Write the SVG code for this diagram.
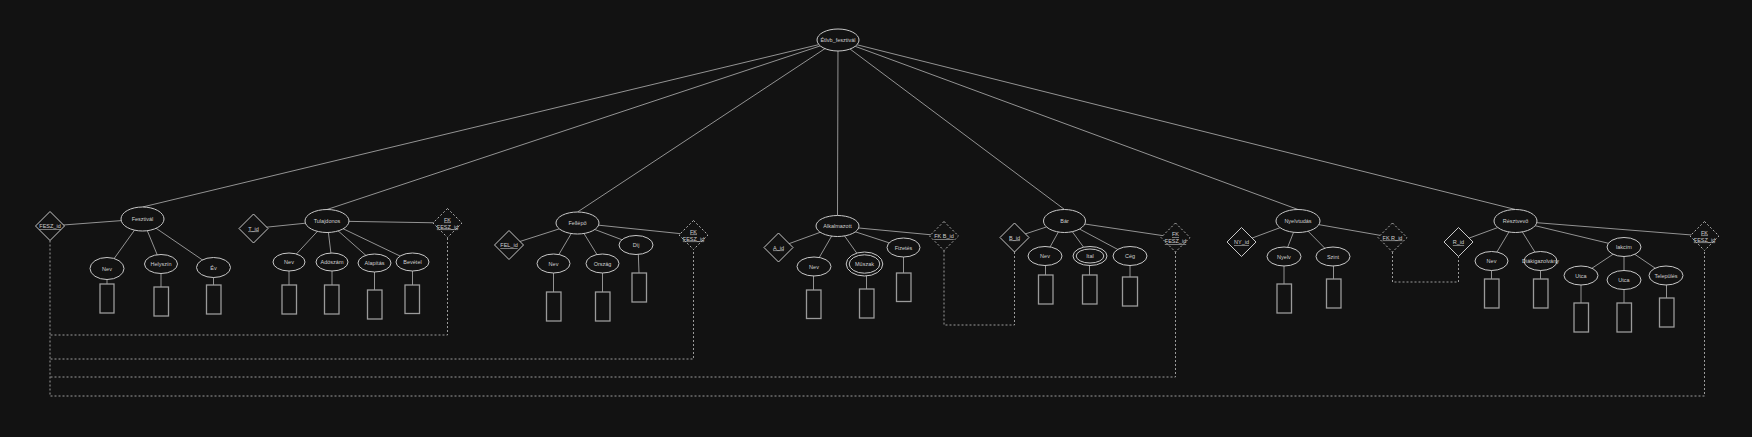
<svg xmlns="http://www.w3.org/2000/svg" width="1752" height="437" viewBox="0 0 1752 437">
<style>
.bg{fill:#121212}
.e{fill:#121212;stroke:#c8c8c8;stroke-width:1}
.d{fill:#121212;stroke:#c8c8c8;stroke-width:1}
.dd{fill:#121212;stroke:#b0b0b0;stroke-width:1;stroke-dasharray:2 2}
.r{fill:none;stroke:#9a9a9a;stroke-width:1.3}
.l{stroke:#b4b4b4;stroke-width:0.8;fill:none}
.dl{stroke:#9a9a9a;stroke-width:1;fill:none;stroke-dasharray:2 2}
text{font-family:"Liberation Sans",Arial,sans-serif;font-size:5.5px;fill:#cfcfcf;text-anchor:middle;dominant-baseline:central}
.u{text-decoration:underline}
</style>
<rect class="bg" x="0" y="0" width="1752" height="437"/>
<g id="connectors">
<!-- root to entities -->
<line class="l" x1="838" y1="40" x2="142.5" y2="207"/>
<line class="l" x1="838" y1="40" x2="327" y2="209.5"/>
<line class="l" x1="838" y1="40" x2="577.5" y2="212"/>
<line class="l" x1="838" y1="40" x2="837.5" y2="215.5"/>
<line class="l" x1="838" y1="40" x2="1064.5" y2="209.5"/>
<line class="l" x1="838" y1="40" x2="1298" y2="209.5"/>
<line class="l" x1="838" y1="40" x2="1515.5" y2="209.5"/>
<!-- Fesztival -->
<line class="l" x1="142.5" y1="219" x2="50" y2="226"/>
<line class="l" x1="142.5" y1="219" x2="107" y2="268.5"/>
<line class="l" x1="142.5" y1="219" x2="161" y2="264"/>
<line class="l" x1="142.5" y1="219" x2="213.5" y2="267.5"/>
<line class="l" x1="107" y1="268.5" x2="107" y2="284"/>
<line class="l" x1="161" y1="264" x2="161" y2="287"/>
<line class="l" x1="213.5" y1="267.5" x2="213.5" y2="285"/>
<!-- Tulajdonos -->
<line class="l" x1="327" y1="221" x2="253.5" y2="228.5"/>
<line class="l" x1="327" y1="221" x2="447.5" y2="223"/>
<line class="l" x1="327" y1="221" x2="289" y2="262"/>
<line class="l" x1="327" y1="221" x2="332" y2="262"/>
<line class="l" x1="327" y1="221" x2="374.5" y2="263"/>
<line class="l" x1="327" y1="221" x2="412.5" y2="262"/>
<line class="l" x1="289" y1="262" x2="289" y2="285"/>
<line class="l" x1="332" y1="262" x2="332" y2="285"/>
<line class="l" x1="374.5" y1="263" x2="374.5" y2="290"/>
<line class="l" x1="412.5" y1="262" x2="412.5" y2="285"/>
<!-- Fellepo -->
<line class="l" x1="577.5" y1="223" x2="509" y2="245"/>
<line class="l" x1="577.5" y1="223" x2="693.5" y2="235"/>
<line class="l" x1="577.5" y1="223" x2="553.5" y2="263.5"/>
<line class="l" x1="577.5" y1="223" x2="602.5" y2="263.5"/>
<line class="l" x1="577.5" y1="223" x2="636" y2="245"/>
<line class="l" x1="553.5" y1="263.5" x2="553.5" y2="292"/>
<line class="l" x1="602.5" y1="263.5" x2="602.5" y2="292"/>
<line class="l" x1="638" y1="245" x2="639" y2="273"/>
<!-- Alkalmazott -->
<line class="l" x1="837.5" y1="226" x2="778.5" y2="247.5"/>
<line class="l" x1="837.5" y1="226" x2="944" y2="236"/>
<line class="l" x1="837.5" y1="226" x2="814" y2="266.5"/>
<line class="l" x1="837.5" y1="226" x2="864.5" y2="264"/>
<line class="l" x1="837.5" y1="226" x2="903.5" y2="247.5"/>
<line class="l" x1="813.5" y1="266.5" x2="813.5" y2="290"/>
<line class="l" x1="866.5" y1="264" x2="866.5" y2="289"/>
<line class="l" x1="903.5" y1="247.5" x2="903.5" y2="273"/>
<!-- Bar -->
<line class="l" x1="1064.5" y1="221" x2="1014.5" y2="237.5"/>
<line class="l" x1="1064.5" y1="221" x2="1175.5" y2="237.5"/>
<line class="l" x1="1064.5" y1="221" x2="1045" y2="256"/>
<line class="l" x1="1064.5" y1="221" x2="1090" y2="256"/>
<line class="l" x1="1064.5" y1="221" x2="1130" y2="256"/>
<line class="l" x1="1045.5" y1="256" x2="1045.5" y2="275"/>
<line class="l" x1="1089.5" y1="256" x2="1089.5" y2="275"/>
<line class="l" x1="1130" y1="256" x2="1130" y2="277"/>
<!-- Nyelvtudas -->
<line class="l" x1="1298" y1="221" x2="1241.5" y2="242"/>
<line class="l" x1="1298" y1="221" x2="1392.5" y2="237.5"/>
<line class="l" x1="1298" y1="221" x2="1284" y2="256.5"/>
<line class="l" x1="1298" y1="221" x2="1333" y2="256.5"/>
<line class="l" x1="1284" y1="256.5" x2="1284" y2="284"/>
<line class="l" x1="1333.5" y1="256.5" x2="1333.5" y2="279"/>
<!-- Resztvevo -->
<line class="l" x1="1515.5" y1="221" x2="1458.5" y2="242"/>
<line class="l" x1="1515.5" y1="221" x2="1704.5" y2="236"/>
<line class="l" x1="1515.5" y1="221" x2="1491.5" y2="261"/>
<line class="l" x1="1515.5" y1="221" x2="1540.5" y2="261"/>
<line class="l" x1="1515.5" y1="221" x2="1624" y2="247"/>
<line class="l" x1="1624" y1="247" x2="1581" y2="275.5"/>
<line class="l" x1="1624" y1="247" x2="1624" y2="280"/>
<line class="l" x1="1624" y1="247" x2="1666" y2="275.5"/>
<line class="l" x1="1491.5" y1="261" x2="1491.5" y2="279"/>
<line class="l" x1="1540.5" y1="261" x2="1540.5" y2="279"/>
<line class="l" x1="1581" y1="275.5" x2="1581" y2="303"/>
<line class="l" x1="1624" y1="280" x2="1624" y2="303"/>
<line class="l" x1="1666.5" y1="275.5" x2="1666.5" y2="298"/>
<!-- dashed foreign key links -->
<path class="dl" d="M50 240.5 V396 H1704.5 V250.5"/>
<path class="dl" d="M50.5 335 H447.5 V237.5"/>
<path class="dl" d="M50.5 359 H693.5 V249.5"/>
<path class="dl" d="M50.5 377 H1175.5 V252"/>
<path class="dl" d="M944 250.5 V325 H1014.5 V252"/>
<path class="dl" d="M1392.5 252 V282 H1458.5 V256.5"/>
</g>
<g id="root"><ellipse class="e" cx="838" cy="40" rx="21" ry="11"/><text x="838" y="40">Étlvb_fesztivál</text></g>
<g id="fesztival">
<ellipse class="e" cx="142.5" cy="219" rx="21.5" ry="12"/><text x="142.5" y="219">Fesztivál</text>
</g>
<g id="fesz-id"><polygon class="d" points="50,211.5 64.5,226 50,240.5 35.5,226"/><text class="u" x="50" y="226">FESZ_id</text></g>
<g id="fesztival-nev"><ellipse class="e" cx="107" cy="268.5" rx="17" ry="11"/><text x="107" y="268.5">Nev</text><rect class="r" x="100" y="284" width="14" height="29"/></g>
<g id="fesztival-helyszin"><ellipse class="e" cx="161" cy="264" rx="16.5" ry="9.5"/><text x="161" y="264">Helyszín</text><rect class="r" x="154" y="287" width="14.5" height="29"/></g>
<g id="fesztival-ev"><ellipse class="e" cx="213.5" cy="267.5" rx="17" ry="10"/><text x="213.5" y="267.5">Év</text><rect class="r" x="206.5" y="285" width="14.5" height="29"/></g>

<g id="tulajdonos"><ellipse class="e" cx="327" cy="221" rx="22" ry="11.5"/><text x="327" y="221">Tulajdonos</text></g>
<g id="t-id"><polygon class="d" points="253.5,214 268,228.5 253.5,243 239,228.5"/><text class="u" x="253.5" y="228.5">T_id</text></g>
<g id="tulajdonos-fk"><polygon class="dd" points="447.5,208.5 462,223 447.5,237.5 433,223"/><text class="u" x="447.5" y="219.5">FK</text><text class="u" x="447.5" y="226.5">FESZ_id</text></g>
<g id="tulajdonos-nev"><ellipse class="e" cx="289" cy="262" rx="16" ry="9"/><text x="289" y="262">Nev</text><rect class="r" x="282" y="285" width="14.5" height="29"/></g>
<g id="tulajdonos-adoszam"><ellipse class="e" cx="332" cy="262" rx="16" ry="9"/><text x="332" y="262">Adószám</text><rect class="r" x="324.5" y="285" width="14.5" height="29"/></g>
<g id="tulajdonos-alapitas"><ellipse class="e" cx="374.5" cy="263" rx="16.5" ry="9"/><text x="374.5" y="263">Alapítás</text><rect class="r" x="367.5" y="290" width="14.5" height="29"/></g>
<g id="tulajdonos-bevetel"><ellipse class="e" cx="412.5" cy="262" rx="16.5" ry="9"/><text x="412.5" y="262">Bevétel</text><rect class="r" x="405" y="285" width="14.5" height="28.5"/></g>

<g id="fellepo"><ellipse class="e" cx="577.5" cy="223" rx="21.5" ry="11"/><text x="577.5" y="223">Fellépő</text></g>
<g id="fel-id"><polygon class="d" points="509,230.5 523.5,245 509,259.5 494.5,245"/><text class="u" x="509" y="245">FEL_id</text></g>
<g id="fellepo-fk"><polygon class="dd" points="693.5,220.5 708,235 693.5,249.5 679,235"/><text class="u" x="693.5" y="231.5">FK</text><text class="u" x="693.5" y="238.5">FESZ_id</text></g>
<g id="fellepo-nev"><ellipse class="e" cx="553.5" cy="263.5" rx="16.5" ry="9.5"/><text x="553.5" y="263.5">Nev</text><rect class="r" x="546.5" y="292" width="14.5" height="29"/></g>
<g id="fellepo-orszag"><ellipse class="e" cx="602.5" cy="263.5" rx="16.5" ry="9.5"/><text x="602.5" y="263.5">Ország</text><rect class="r" x="595.5" y="292" width="14.5" height="29"/></g>
<g id="fellepo-dij"><ellipse class="e" cx="636" cy="245" rx="17" ry="9.5"/><text x="636" y="245">Díj</text><rect class="r" x="632" y="273" width="14.5" height="29"/></g>

<g id="alkalmazott"><ellipse class="e" cx="837.5" cy="226" rx="21.5" ry="10.5"/><text x="837.5" y="226">Alkalmazott</text></g>
<g id="a-id"><polygon class="d" points="778.5,233 793,247.5 778.5,262 764,247.5"/><text class="u" x="778.5" y="247.5">A_id</text></g>
<g id="alkalmazott-fk"><polygon class="dd" points="944,221.5 958.5,236 944,250.5 929.5,236"/><text class="u" x="944" y="236">FK B_id</text></g>
<g id="alkalmazott-nev"><ellipse class="e" cx="814" cy="266.5" rx="17" ry="9.5"/><text x="814" y="266.5">Nev</text><rect class="r" x="806.5" y="290" width="14.5" height="28.5"/></g>
<g id="alkalmazott-muszak"><ellipse class="e" cx="864.5" cy="264" rx="18.3" ry="12"/><ellipse class="e" cx="864.5" cy="264" rx="15.3" ry="9.2"/><text x="864.5" y="264">Műszak</text><rect class="r" x="859.5" y="289" width="14.5" height="29"/></g>
<g id="alkalmazott-fizetes"><ellipse class="e" cx="903.5" cy="247.5" rx="16.5" ry="9.5"/><text x="903.5" y="247.5">Fizetés</text><rect class="r" x="896.5" y="273" width="14.5" height="28.5"/></g>

<g id="bar"><ellipse class="e" cx="1064.5" cy="221" rx="21" ry="11.5"/><text x="1064.5" y="221">Bár</text></g>
<g id="b-id"><polygon class="d" points="1014.5,223 1029,237.5 1014.5,252 1000,237.5"/><text class="u" x="1014.5" y="237.5">B_id</text></g>
<g id="bar-fk"><polygon class="dd" points="1175.5,223 1190,237.5 1175.5,252 1161,237.5"/><text class="u" x="1175.5" y="234">FK</text><text class="u" x="1175.5" y="241">FESZ_id</text></g>
<g id="bar-nev"><ellipse class="e" cx="1045" cy="256" rx="17" ry="9.5"/><text x="1045" y="256">Nev</text><rect class="r" x="1038.5" y="275" width="14.5" height="29"/></g>
<g id="bar-ital"><ellipse class="e" cx="1090" cy="256" rx="17" ry="9.5"/><ellipse class="e" cx="1090" cy="256" rx="13.8" ry="7"/><text x="1090" y="256">Ital</text><rect class="r" x="1082.5" y="275" width="14.5" height="29"/></g>
<g id="bar-ceg"><ellipse class="e" cx="1130" cy="256" rx="17" ry="9.5"/><text x="1130" y="256">Cég</text><rect class="r" x="1122.5" y="277" width="15" height="29"/></g>

<g id="nyelvtudas"><ellipse class="e" cx="1298" cy="221" rx="22" ry="11.5"/><text x="1298" y="221">Nyelvtudás</text></g>
<g id="ny-id"><polygon class="d" points="1241.5,227.5 1256,242 1241.5,256.5 1227,242"/><text class="u" x="1241.5" y="242">NY_id</text></g>
<g id="nyelvtudas-fk"><polygon class="dd" points="1392.5,223 1407,237.5 1392.5,252 1378,237.5"/><text class="u" x="1392.5" y="237.5">FK R_id</text></g>
<g id="nyelvtudas-nyelv"><ellipse class="e" cx="1284" cy="256.5" rx="17" ry="9.5"/><text x="1284" y="256.5">Nyelv</text><rect class="r" x="1277" y="284" width="14.5" height="29"/></g>
<g id="nyelvtudas-szint"><ellipse class="e" cx="1333" cy="256.5" rx="17" ry="9.5"/><text x="1333" y="256.5">Szint</text><rect class="r" x="1326.5" y="279" width="14.5" height="29"/></g>

<g id="resztvevo"><ellipse class="e" cx="1515.5" cy="221" rx="21.5" ry="11.5"/><text x="1515.5" y="221">Résztvevő</text></g>
<g id="r-id"><polygon class="d" points="1458.5,227.5 1473,242 1458.5,256.5 1444,242"/><text class="u" x="1458.5" y="242">R_id</text></g>
<g id="resztvevo-fk"><polygon class="dd" points="1704.5,221.5 1719,236 1704.5,250.5 1690,236"/><text class="u" x="1704.5" y="232.5">FK</text><text class="u" x="1704.5" y="239.5">FESZ_id</text></g>
<g id="resztvevo-nev"><ellipse class="e" cx="1491.5" cy="261" rx="16.5" ry="9.5"/><text x="1491.5" y="261">Nev</text><rect class="r" x="1484.5" y="279" width="14.5" height="29"/></g>
<g id="resztvevo-diak"><ellipse class="e" cx="1540.5" cy="261" rx="16.5" ry="9.5"/><text x="1540.5" y="261">Diákigazolvány</text><rect class="r" x="1533.5" y="279" width="14.5" height="29"/></g>
<g id="resztvevo-lakcim"><ellipse class="e" cx="1624" cy="247" rx="17" ry="9.5"/><text x="1624" y="247">lakcím</text></g>
<g id="lakcim-utca1"><ellipse class="e" cx="1581" cy="275.5" rx="17" ry="9.5"/><text x="1581" y="275.5">Utca</text><rect class="r" x="1574" y="303" width="14.5" height="29"/></g>
<g id="lakcim-utca2"><ellipse class="e" cx="1624" cy="280" rx="17" ry="9.5"/><text x="1624" y="280">Utca</text><rect class="r" x="1617" y="303" width="14.5" height="29"/></g>
<g id="lakcim-telepules"><ellipse class="e" cx="1666" cy="275.5" rx="17" ry="9.5"/><text x="1666" y="275.5">Település</text><rect class="r" x="1659.5" y="298" width="14.5" height="29"/></g>
</svg>
